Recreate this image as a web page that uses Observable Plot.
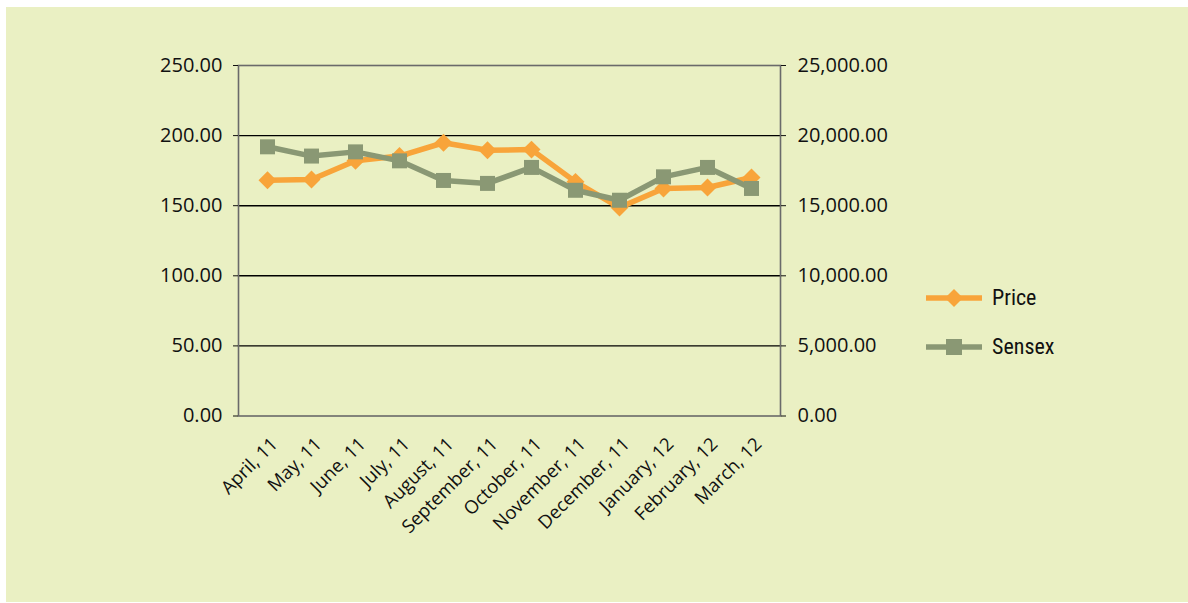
<!DOCTYPE html>
<html><head><meta charset="utf-8">
<script src="https://cdn.jsdelivr.net/npm/d3@7"></script>
<script src="https://cdn.jsdelivr.net/npm/@observablehq/plot@0.6"></script>
<style>
html,body{margin:0;padding:0;background:#fff;}
#wrap{position:relative;width:1188px;height:603px;overflow:hidden;}
#bg{position:absolute;left:6px;top:7px;width:1182px;height:595px;background:#EAF0C3;}
#chart{position:absolute;left:0;top:0;}
.lg{position:absolute;left:926px;height:30px;line-height:30px;font-family:"Liberation Sans Narrow","Roboto Condensed",Roboto,sans-serif;font-size:22px;color:#111;white-space:nowrap;}
.lg svg{position:absolute;left:0;top:0;}
.lg span{position:absolute;left:66px;top:0;}
</style></head>
<body><div id="wrap"><div id="bg"></div><div id="chart"></div></div>
<script>
const months = ["April, 11","May, 11","June, 11","July, 11","August, 11","September, 11","October, 11","November, 11","December, 11","January, 12","February, 12","March, 12"];
const price = [168.2, 168.7, 182, 185.4, 194.9, 189.6, 190, 167, 148.7, 162.3, 163, 170.1];
const sensex = [19200, 18540, 18840, 18200, 16800, 16590, 17730, 16100, 15390, 17060, 17730, 16230];
const leftTicks = [0, 50, 100, 150, 200, 250];
const rightTicks = [0, 5000, 10000, 15000, 20000, 25000];
const gridTicks = [50, 100, 150, 200];
const seriesNames = ["Price", "Sensex"];
const seriesColors = ["#F8A43A", "#8A9874"];

const table = months.map((m, i) => ({month: m, price: price[i], sensex: sensex[i] / 100}));
const fmtR = d3.format(",.2f");

const chart = Plot.plot({
  width: 1188, height: 603,
  marginLeft: 238, marginRight: 408, marginTop: 65, marginBottom: 187.5,
  style: {background: "transparent", fontFamily: "'Open Sans', sans-serif", color: "#111", overflow: "visible"},
  x: {type: "point", domain: months, range: [267, 751], padding: 0, axis: null},
  y: {domain: [0, 250], range: [415.5, 65], axis: null},
  marks: [
    Plot.ruleY(gridTicks, {stroke: "#000", strokeWidth: 1.4}),
    Plot.frame({stroke: "#6a6a6a", strokeWidth: 1.6}),
    Plot.axisY(leftTicks, {anchor: "left", tickSize: 5, tickPadding: 11, fontSize: 20, tickFormat: d => d.toFixed(2)}),
    Plot.axisY(rightTicks.map(v => v / 100), {anchor: "right", tickSize: 5, tickPadding: 12, fontSize: 20, tickFormat: d => fmtR(Math.round(d * 100))}),
    Plot.text(months, {x: d => d, frameAnchor: "bottom", rotate: -45, textAnchor: "end", lineAnchor: "middle", dx: 7, dy: 25, fontSize: 18.5, fill: "#111"}),
    Plot.line(table, {x: "month", y: "price", stroke: seriesColors[0], strokeWidth: 5.5}),
    Plot.dot(table, {x: "month", y: "price", symbol: "diamond2", r: 8.1, fill: seriesColors[0], stroke: "none"}),
    Plot.line(table, {x: "month", y: "sensex", stroke: seriesColors[1], strokeWidth: 5.5}),
    Plot.dot(table, {x: "month", y: "sensex", symbol: "square", r: 8.46, fill: seriesColors[1], stroke: "none"})
  ]
});
document.getElementById("chart").appendChild(chart);

// legend
const wrap = document.getElementById("wrap");
const legendY = [298, 347];
seriesNames.forEach((name, i) => {
  const row = document.createElement("div");
  row.className = "lg";
  row.style.top = (legendY[i] - 15) + "px";
  const marker = i === 0
    ? `<polygon points="28,6 37,15 28,24 19,15" fill="${seriesColors[i]}"/>`
    : `<rect x="20" y="7" width="16" height="16" fill="${seriesColors[i]}"/>`;
  row.innerHTML = `<svg width="58" height="30"><line x1="0" x2="56" y1="15" y2="15" stroke="${seriesColors[i]}" stroke-width="5.5"/>${marker}</svg><span>${name}</span>`;
  wrap.appendChild(row);
});
</script>
</body></html>
